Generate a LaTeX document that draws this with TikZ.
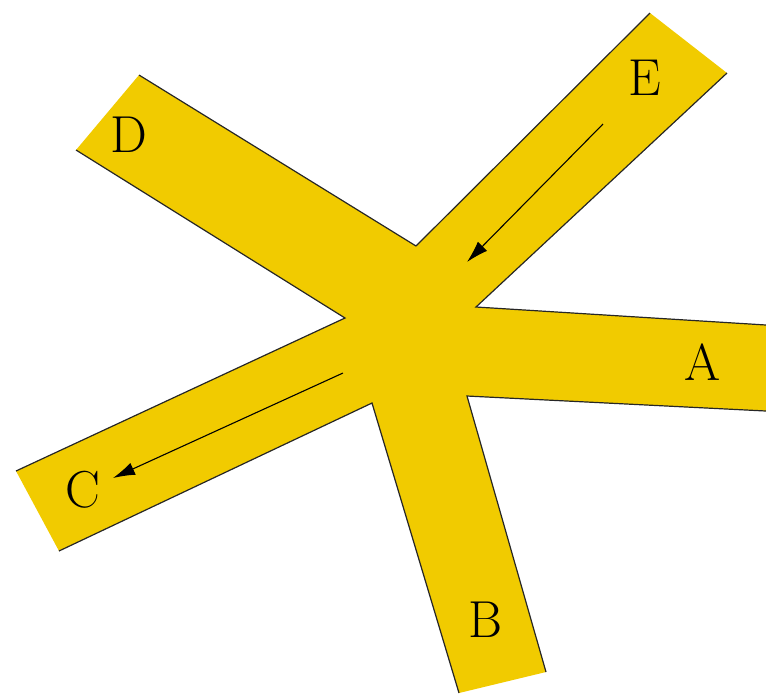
\documentclass[tikz,border=0pt]{standalone}
\usepackage{tikz}
\usetikzlibrary{arrows.meta}
\usepackage{xcolor}
\definecolor{roadYellow}{RGB}{241,203,0}

\begin{document}
\begin{tikzpicture}[
    x=0.5pt, y=-0.5pt,
    road/.style={fill=roadYellow, draw=none},
    kerb/.style={draw=black!85, line width=0.6pt},
    lbl/.style={font=\fontsize{26}{30}\selectfont, inner sep=0pt},
    flow/.style={-{Latex[length=11pt,width=6.5pt]}, line width=0.55pt},
    >=Latex
]
\useasboundingbox (0,0) rectangle (766,693);

% road surface
\fill[road] (650,13) -- (727,73) -- (476,307) -- (766,325) -- (766,411)
    -- (467,396) -- (546,672) -- (459,693) -- (372,403) -- (59,551)
    -- (16,471) -- (345,318) -- (76,150) -- (139,75) -- (416,246) -- cycle;

% kerbs
\draw[kerb] (416,246) -- (650,13);
\draw[kerb] (727,73) -- (476,307) -- (766,325);
\draw[kerb] (766,411) -- (467,396) -- (546,672);
\draw[kerb] (459,693) -- (372,403) -- (59,551);
\draw[kerb] (16,471) -- (345,318) -- (76,150);
\draw[kerb] (139,75) -- (416,246);

% arm labels
\node[lbl] (armA) at (703,362) {A};
\node[lbl] (armB) at (485,620) {B};
\node[lbl] (armC) at (83,490) {C};
\node[lbl] (armD) at (129,135) {D};
\node[lbl] (armE) at (645,78) {E};

% traffic direction
\coordinate (eIn) at (603,124);
\coordinate (eOut) at (467,262);
\coordinate (cIn) at (343,373);
\coordinate (cOut) at (113,478);
\draw[flow] (eIn) -- (eOut);
\draw[flow] (cIn) -- (cOut);
\end{tikzpicture}
\end{document}
